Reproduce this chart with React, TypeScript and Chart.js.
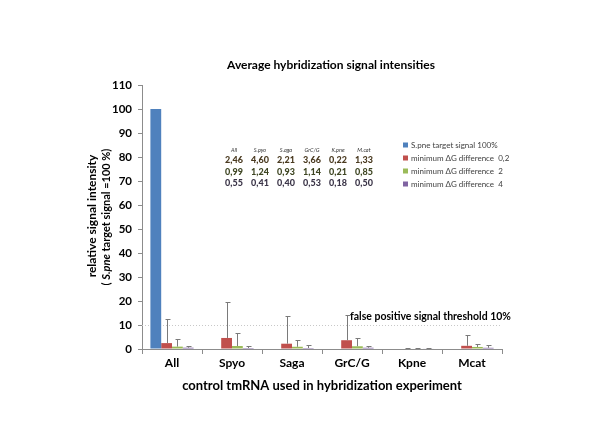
import React, { useEffect, useRef } from 'react';
import { Chart, registerables } from 'chart.js';

Chart.register(...registerables);

const categories = ['All', 'Spyo', 'Saga', 'GrC/G', 'Kpne', 'Mcat'];
const seriesNames = [
  'S.pne target signal 100%',
  'minimum \u0394G difference  0,2',
  'minimum \u0394G difference  2',
  'minimum \u0394G difference  4',
];
const seriesColors = ['#4F81BD', '#C0504D', '#9BBB59', '#8064A2'];
const targetValues = [100, 0, 0, 0, 0, 0];
const dg02Values = [2.46, 4.6, 2.21, 3.66, 0.22, 1.33];
const dg2Values = [0.99, 1.24, 0.93, 1.14, 0.21, 0.85];
const dg4Values = [0.55, 0.41, 0.4, 0.53, 0.18, 0.5];
const dg02Errors = [10.0, 15.0, 11.6, 10.5, 0.3, 4.5];
const dg2Errors = [3.2, 5.5, 2.9, 3.4, 0.3, 1.2];
const dg4Errors = [0.9, 1.0, 1.1, 0.9, 0.2, 1.0];
const tableHeaders = ['All', 'S.pyo', 'S.aga', 'GrC/G', 'K.pne', 'M.cat'];
const thresholdValue = 10;
const thresholdLabel = 'false positive signal threshold 10%';
const yMin = 0;
const yMax = 110;
const yStep = 10;

const FONT = 'Lato, "Liberation Sans", sans-serif';

const overlayPlugin = {
  id: 'overlay',
  beforeDatasetsDraw(chart: any) {
    const { ctx, chartArea, scales } = chart;
    const y = scales.y.getPixelForValue(thresholdValue);
    ctx.save();
    ctx.strokeStyle = '#c8c8c8';
    ctx.lineWidth = 1;
    ctx.setLineDash([1, 2]);
    ctx.beginPath();
    ctx.moveTo(chartArea.left, Math.round(y) + 0.5);
    ctx.lineTo(chartArea.right, Math.round(y) + 0.5);
    ctx.stroke();
    ctx.restore();
  },
  afterDatasetsDraw(chart: any) {
    const { ctx, scales } = chart;
    const errs = [null, dg02Errors, dg2Errors, dg4Errors];
    const vals = [targetValues, dg02Values, dg2Values, dg4Values];
    ctx.save();
    ctx.strokeStyle = '#7a7a7a';
    ctx.lineWidth = 1;
    for (let i = 1; i < 4; i++) {
      const meta = chart.getDatasetMeta(i);
      const e = errs[i] as number[];
      meta.data.forEach((bar: any, j: number) => {
        const x = Math.round(bar.x) + 0.5;
        const y0 = scales.y.getPixelForValue(vals[i][j]);
        const y1 = Math.round(scales.y.getPixelForValue(vals[i][j] + e[j])) + 0.5;
        ctx.beginPath();
        ctx.moveTo(x, y0);
        ctx.lineTo(x, y1);
        ctx.moveTo(x - 2, y1);
        ctx.lineTo(x + 3, y1);
        ctx.stroke();
      });
    }
    ctx.restore();

    ctx.save();
    ctx.fillStyle = '#000';
    ctx.font = `bold 10.5px ${FONT}`;
    ctx.textBaseline = 'middle';
    ctx.textAlign = 'left';
    ctx.fillText(thresholdLabel, 350, scales.y.getPixelForValue(thresholdValue) - 8);
    ctx.restore();
  },
  afterDraw(chart: any) {
    const { ctx } = chart;
    ctx.save();
    ctx.fillStyle = '#000';
    ctx.textAlign = 'center';
    ctx.textBaseline = 'middle';
    ctx.font = `bold 12px ${FONT}`;
    ctx.fillText('Average hybridization signal intensities', 331, 65);

    ctx.font = `bold 13px ${FONT}`;
    ctx.fillText('control tmRNA used in hybridization experiment', 322, 386);

    ctx.save();
    ctx.translate(92, 216);
    ctx.rotate(-Math.PI / 2);
    ctx.font = `bold 12px ${FONT}`;
    ctx.fillText('relative signal intensity', 0, 0);
    ctx.restore();

    ctx.save();
    ctx.translate(106, 217);
    ctx.rotate(-Math.PI / 2);
    const parts: [string, string][] = [
      ['( ', `bold 11px ${FONT}`],
      ['S.pne', `italic bold 11px ${FONT}`],
      [' target signal =100 %)', `bold 11px ${FONT}`],
    ];
    let total = 0;
    parts.forEach(([t, f]) => {
      ctx.font = f;
      total += ctx.measureText(t).width;
    });
    let cx = -total / 2;
    ctx.textAlign = 'left';
    parts.forEach(([t, f]) => {
      ctx.font = f;
      ctx.fillText(t, cx, 0);
      cx += ctx.measureText(t).width;
    });
    ctx.restore();

    const legY = [145, 158, 171, 184];
    ctx.textAlign = 'left';
    ctx.font = `8px ${FONT}`;
    seriesNames.forEach((n, i) => {
      ctx.fillStyle = seriesColors[i];
      ctx.fillRect(403, legY[i] - 2.5, 5, 5);
      ctx.fillStyle = '#404040';
      ctx.fillText(n, 411, legY[i] + 0.5);
    });

    const colX = [234, 260, 286, 312, 338, 364];
    ctx.textAlign = 'center';
    ctx.font = `italic 5.5px ${FONT}`;
    ctx.fillStyle = '#333';
    tableHeaders.forEach((h, i) => ctx.fillText(h, colX[i], 150));
    const rows = [dg02Values, dg2Values, dg4Values];
    const rowY = [160.5, 172, 183.5];
    const rowColors = ['#4a3a20', '#3e4522', '#3b3548'];
    ctx.font = `900 9px ${FONT}`;
    rows.forEach((r, ri) => {
      ctx.fillStyle = rowColors[ri];
      r.forEach((v, ci) => ctx.fillText(v.toFixed(2).replace('.', ','), colX[ci], rowY[ri]));
    });
    ctx.restore();
  },
};

export default function App() {
  const ref = useRef<HTMLCanvasElement>(null);
  useEffect(() => {
    document.body.style.margin = '0';
    const chart = new Chart(ref.current as HTMLCanvasElement, {
      type: 'bar',
      data: {
        labels: categories,
        datasets: [targetValues, dg02Values, dg2Values, dg4Values].map((d, i) => ({
          label: seriesNames[i],
          data: d,
          backgroundColor: seriesColors[i],
          borderWidth: 0,
          categoryPercentage: 0.72,
          barPercentage: 1.0,
        })),
      },
      options: {
        responsive: false,
        animation: false,
        layout: { padding: { left: 0, right: 98, top: 85, bottom: 45 } },
        plugins: {
          legend: { display: false },
          title: { display: false },
          tooltip: { enabled: false },
        },
        scales: {
          x: {
            afterFit: (s: any) => { s.height = 30; },
            grid: { drawOnChartArea: false, tickLength: 5, color: '#8c8c8c', offset: true },
            border: { color: '#8c8c8c' },
            ticks: { color: '#000', font: { family: FONT, size: 12, weight: 'bold' }, padding: 2 },
          },
          y: {
            min: yMin,
            max: yMax,
            afterFit: (s: any) => { s.width = 142; },
            grid: { drawOnChartArea: false, tickLength: 4, color: '#8c8c8c' },
            border: { color: '#8c8c8c' },
            ticks: { stepSize: yStep, color: '#000', font: { family: FONT, size: 11.5, weight: 'bold' }, padding: 6 },
          },
        },
      },
      plugins: [overlayPlugin],
    } as any);
    return () => chart.destroy();
  }, []);
  return (
    <div style={{ position: 'fixed', left: 0, top: 0, width: 600, height: 424, background: '#fff' }}>
      <canvas ref={ref} width={600} height={424} style={{ width: 600, height: 424, display: 'block' }} />
    </div>
  );
}
